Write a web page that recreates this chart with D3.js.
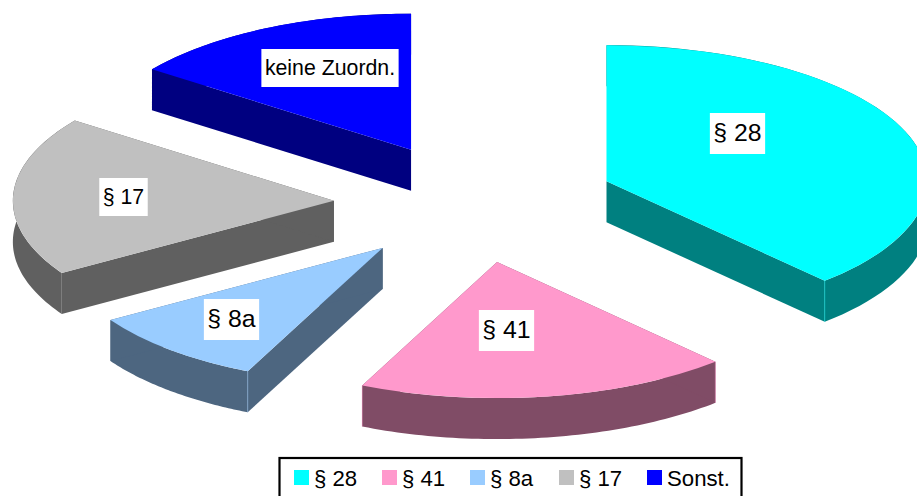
<!DOCTYPE html>
<html><head><meta charset="utf-8">
<script src="https://cdn.jsdelivr.net/npm/d3@7"></script>
<style>html,body{margin:0;padding:0;background:#fff;overflow:hidden}svg{display:block}text{font-family:"Liberation Sans",Arial,sans-serif;fill:#000}</style>
</head><body><div id="c"></div>
<script>
const categories = ["§ 28","§ 41","§ 8a","§ 17","Sonst."];
const sliceLabels = ["§ 28","§ 41","§ 8a","§ 17","keine Zuordn."];
const values = [38.1,18.8,9.2,18.95,14.95];
const topColors = ["#00FFFF","#FF99CC","#99CCFF","#C0C0C0","#0000FF"];
const wallColors = ["#008080","#804C66","#4D6680","#606060","#000080"];

const W=917,H=496,cx=475,cy=203,rx=321,ry=136,depth=41,explode=0.44;
const nudgeX=[0,0,1,0,0];
const labelCentres=[[737.5,133],[506.5,330],[231.5,319],[123.5,197],[330,68]];
const labelSizes=[24.8,24.8,24.8,21.3,21.3];
const labelHeights=[41,41,41,38,38];
const svg=d3.select("#c").append("svg").attr("width",W).attr("height",H);
const arcs=d3.pie().sort(null)(values);
const yr=ry/rx;
const arcGen=d3.arc().innerRadius(0).outerRadius(rx);
const polar=a=>[rx*Math.sin(a),-ry*Math.cos(a)];
const order=[3,4,0,2,1];
order.forEach(i=>{
  const d=arcs[i],mid=(d.startAngle+d.endAngle)/2,[ox,oy]=polar(mid);
  const g=svg.append("g").attr("transform",`translate(${cx+ox*explode+nudgeX[i]},${cy+oy*explode})`);
  const n=d3.range(0,61).map(k=>d.startAngle+(d.endAngle-d.startAngle)*k/60);
  const band=d3.area().x(a=>polar(a)[0]).y0(a=>polar(a)[1]).y1(a=>polar(a)[1]+depth);
  g.append("path").attr("d",band(n)).attr("fill",wallColors[i]);
  [d.startAngle,d.endAngle].forEach(a=>{
    const [px,py]=polar(a);
    g.append("path").attr("d",d3.line()([[0,0],[px,py],[px,py+depth],[0,depth]])+"Z").attr("fill",wallColors[i]);
  });
  g.append("path").attr("d",arcGen(d)).attr("transform",`scale(1,${yr})`).attr("fill",topColors[i]);
  [d.startAngle,d.endAngle].forEach(a=>{
    const [px,py]=polar(a);
    if(a>Math.PI/2&&a<Math.PI*1.2)
      g.append("line").attr("x1",px).attr("x2",px).attr("y1",py).attr("y2",py+depth).attr("stroke",topColors[i]).attr("stroke-opacity",0.45).attr("stroke-width",1);
  });
});
sliceLabels.forEach((t,i)=>{
  const [x,y]=labelCentres[i];
  const g=svg.append("g");
  const r=g.append("rect").attr("fill","#fff");
  const tx=g.append("text").attr("x",x).attr("y",y-(i<3?1:0)).attr("text-anchor","middle").attr("dy","0.35em").attr("font-size",labelSizes[i]).text(t);
  const w=tx.node().getComputedTextLength()+7,h=labelHeights[i];
  r.attr("x",x-w/2).attr("y",y-h/2+(i<3?0.5:0)).attr("width",w).attr("height",h);
});
// legend
svg.append("rect").attr("x",279.5).attr("y",458).attr("width",462).attr("height",60).attr("fill","#fff").attr("stroke","#000").attr("stroke-width",2.2);
const legendStarts=[294,382,470,559,647];
categories.forEach((c,i)=>{
  const x=legendStarts[i];
  svg.append("rect").attr("x",x).attr("y",470).attr("width",15).attr("height",15).attr("fill",topColors[i]);
  svg.append("text").attr("x",x+20).attr("y",485.5).attr("font-size",22.2).text(c);
});
</script></body></html>
